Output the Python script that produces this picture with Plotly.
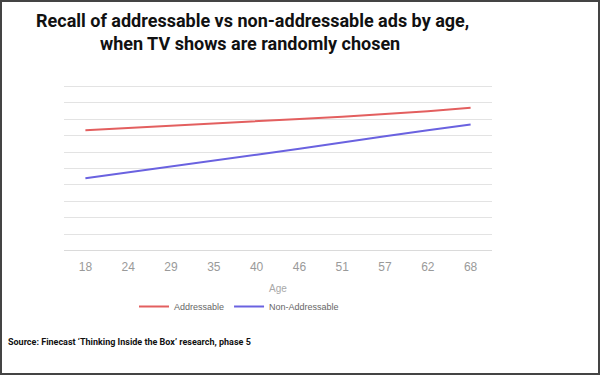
import plotly.graph_objects as go

ages = ["18", "24", "29", "35", "40", "46", "51", "57", "62", "68"]
addressable = [73.3, 74.6, 76.0, 77.3, 78.8, 80.2, 81.6, 83.2, 84.9, 87.1]
non_addressable = [44.1, 47.6, 51.0, 54.6, 58.4, 62.0, 65.6, 69.6, 73.3, 76.8]
series_names = ["Addressable", "Non-Addressable"]
series_colors = ["#e35f5f", "#6a62e0"]

W, H = 600, 375
ML, MR, MT, MB = 64, 108, 84, 122
pw, ph = W - ML - MR, H - MT - MB

fig = go.Figure()
for name, vals, col in zip(series_names, [addressable, non_addressable], series_colors):
    fig.add_trace(go.Scatter(x=ages, y=vals, mode="lines", name=name,
                             line=dict(color=col, width=2)))

def px2x(px):
    return (px - ML) / pw

def px2y(py):
    return (H - MB - py) / ph

fig.update_layout(
    width=W, height=H,
    margin=dict(l=ML, r=MR, t=MT, b=MB, autoexpand=False),
    paper_bgcolor="white", plot_bgcolor="white",
    showlegend=True,
    legend=dict(orientation="h", x=px2x(134), y=px2y(292), xanchor="left", yanchor="top",
                font=dict(family="Liberation Sans, Arial", size=9, color="#666666"),
                bgcolor="rgba(0,0,0,0)"),
    xaxis=dict(type="category", range=[-0.5, len(ages) - 0.5], showgrid=False, zeroline=False,
               showline=False, ticks="", ticklabelstandoff=5,
               tickfont=dict(family="Liberation Sans, Arial", size=12, color="#9a9a9a"),
               title=dict(text="Age", font=dict(family="Liberation Sans, Arial", size=10, color="#a8a8a8"),
                          standoff=11)),
    yaxis=dict(range=[-1.5, 101.5], dtick=10, showticklabels=False, showgrid=True,
               gridcolor="#e3e3e3", gridwidth=1, zeroline=True, zerolinecolor="#dadada",
               zerolinewidth=1, showline=False, ticks=""),
    annotations=[
        dict(text="<b>Recall of addressable vs non-addressable ads by age,</b>",
             xref="paper", yref="paper", x=px2x(252), y=px2y(20), xanchor="center", yanchor="middle",
             showarrow=False, font=dict(family="Roboto", size=18, color="#111111")),
        dict(text="<b>when TV shows are randomly chosen</b>",
             xref="paper", yref="paper", x=px2x(250), y=px2y(43), xanchor="center", yanchor="middle",
             showarrow=False, font=dict(family="Roboto", size=18, color="#111111")),
        dict(text="<b>Source: Finecast ‘Thinking Inside the Box’ research, phase 5</b>",
             xref="paper", yref="paper", x=px2x(6), y=px2y(342), xanchor="left", yanchor="middle",
             showarrow=False, font=dict(family="Roboto", size=9, color="#111111")),
    ],
    shapes=[dict(type="rect", xref="paper", yref="paper", x0=px2x(1), x1=px2x(W - 1),
                 y0=px2y(H - 1), y1=px2y(1), line=dict(color="#444444", width=2), layer="above")],
)

fig.write_html("out.html", config={"displayModeBar": False},
               post_script="document.body.style.margin='0';document.body.style.overflow='hidden';")
